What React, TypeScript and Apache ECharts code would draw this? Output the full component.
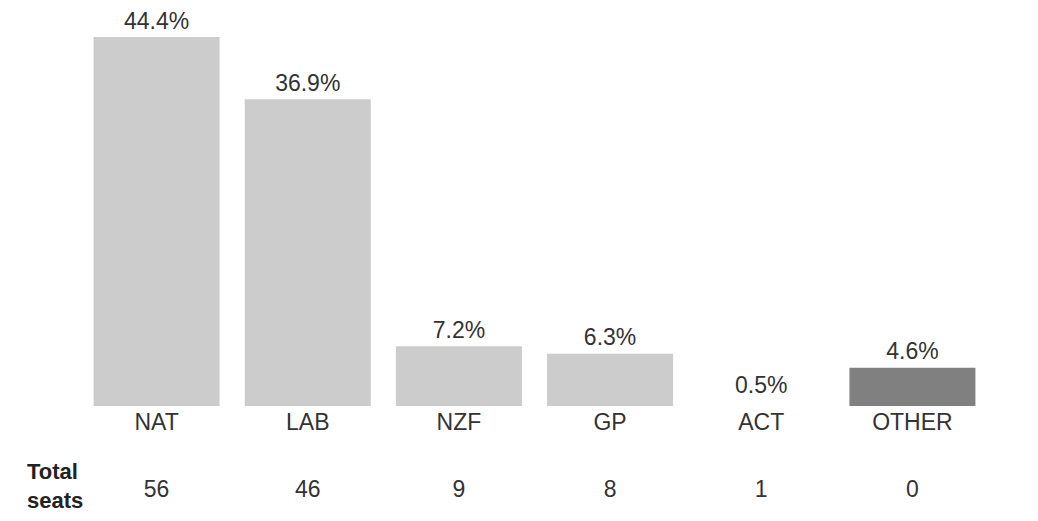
import React, { useEffect, useRef } from "react";
import * as echarts from "echarts";

const parties = ["NAT", "LAB", "NZF", "GP", "ACT", "OTHER"];
const voteShare = [44.4, 36.9, 7.2, 6.3, 0.5, 4.6];
const seats = ["56", "46", "9", "8", "1", "0"];
const barColors = ["#cccccc", "#cccccc", "#cccccc", "#cccccc", "transparent", "#808080"];

const FONT = "Arial, 'Liberation Sans', Helvetica, sans-serif";
const TEXT = "#333333";
const FS = 23;

export default function App() {
  const ref = useRef<HTMLDivElement>(null);
  useEffect(() => {
    if (!ref.current) return;
    const chart = echarts.init(ref.current, undefined, { renderer: "svg" });
    chart.setOption({
      animation: false,
      grid: { left: 81, right: 50, top: 37, bottom: 115 },
      xAxis: [
        {
          type: "category",
          data: parties,
          axisLine: { show: false },
          axisTick: { show: false },
          axisLabel: { color: TEXT, fontSize: FS, fontFamily: FONT, margin: 4 },
        },
        {
          type: "category",
          data: seats,
          position: "bottom",
          offset: 64,
          axisLine: { show: false },
          axisTick: { show: false },
          axisLabel: { color: TEXT, fontSize: FS, fontFamily: FONT, margin: 7 },
        },
      ],
      yAxis: { type: "value", min: 0, max: 44.4, show: false },
      graphic: [
        {
          type: "text",
          left: 27,
          top: 457,
          style: {
            text: "Total\nseats",
            fontSize: 22,
            fontWeight: "bold",
            fontFamily: FONT,
            fill: "#222222",
            lineHeight: 29,
          },
        },
      ],
      series: [
        {
          type: "bar",
          xAxisIndex: 0,
          barWidth: 126,
          data: voteShare.map((v, i) => ({ value: v, itemStyle: { color: barColors[i] } })),
          label: {
            show: true,
            position: "top",
            distance: 5,
            formatter: (p: any) => p.value.toFixed(1) + "%",
            color: TEXT,
            fontSize: FS,
            fontFamily: FONT,
          },
        },
      ],
    });
    return () => chart.dispose();
  }, []);
  return (
    <div
      ref={ref}
      style={{ position: "absolute", left: 0, top: 0, width: 1038, height: 521, background: "#fff" }}
    />
  );
}
